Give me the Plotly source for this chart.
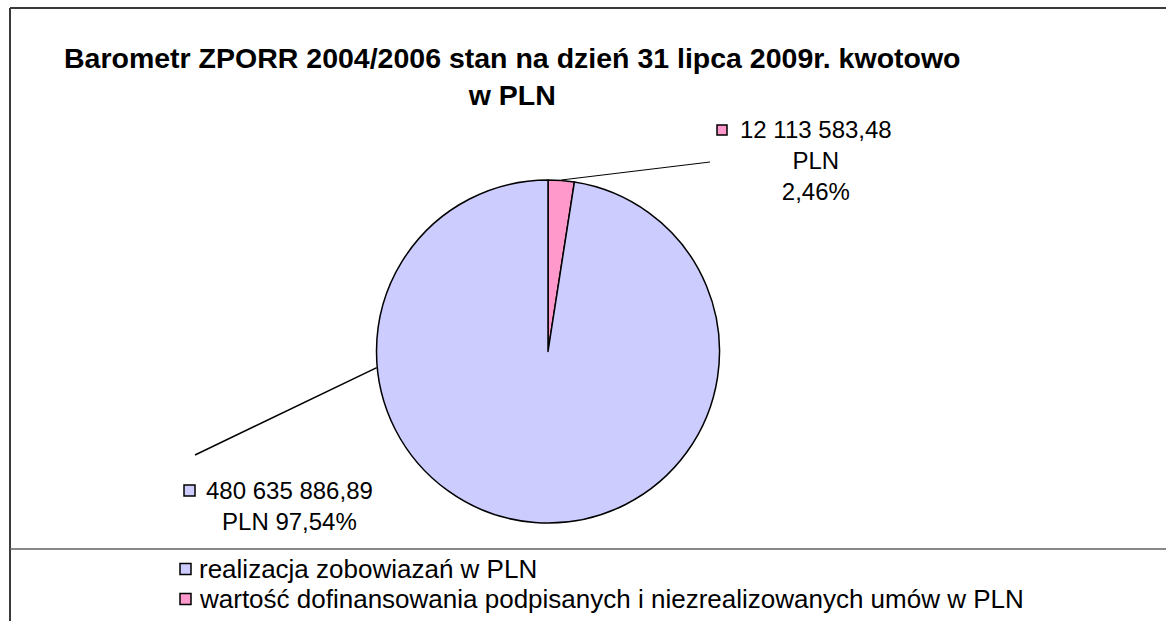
import math
import plotly.graph_objects as go

# ---- data ----
labels = ["realizacja zobowiazań w PLN",
          "wartość dofinansowania podpisanych i niezrealizowanych umów w PLN"]
values = [480635886.89, 12113583.48]
colors = ["#CCCCFF", "#FF99CC"]
title_text = "Barometr ZPORR 2004/2006 stan na dzień 31 lipca 2009r. kwotowo<br>w PLN"

W, H = 1166, 621
FONT = "Liberation Sans, Arial, sans-serif"


def fx(px):
    return px / W


def fy(py):
    return 1 - py / H


def fmt_pln(v):
    s = f"{v:,.2f}"
    return s.replace(",", " ").replace(".", ",")


total = sum(values)
pcts = [v / total * 100 for v in values]
pct_txt = [f"{p:.2f}".replace(".", ",") + "%" for p in pcts]

# pie geometry (pixels)
pie_l, pie_r, pie_t, pie_b = 376, 720, 180, 523
cx, cy = (pie_l + pie_r) / 2, (pie_t + pie_b) / 2
R = (pie_r - pie_l) / 2

# pink slice drawn first so it starts at 12 o'clock going clockwise
order = [1, 0]
fig = go.Figure(go.Pie(
    labels=[labels[i] for i in order], values=[values[i] for i in order],
    sort=False, direction="clockwise", rotation=0,
    marker=dict(colors=[colors[i] for i in order], line=dict(color="black", width=1.5)),
    textinfo="none", hoverinfo="label+value+percent", showlegend=False,
    domain=dict(x=[fx(pie_l), fx(pie_r)], y=[fy(pie_b), fy(pie_t)]),
))

shapes = []
annotations = []

# frame
frame_col = "#3a3a3a"
shapes.append(dict(type="line", xref="paper", yref="paper", x0=fx(10), x1=fx(10), y0=fy(8), y1=fy(621),
                   line=dict(color=frame_col, width=2)))
shapes.append(dict(type="line", xref="paper", yref="paper", x0=fx(10), x1=1, y0=fy(8), y1=fy(8),
                   line=dict(color=frame_col, width=2)))
shapes.append(dict(type="line", xref="paper", yref="paper", x0=fx(10), x1=1, y0=fy(549), y1=fy(549),
                   line=dict(color="#606060", width=1.5)))


def circ_pt(frac_cw_from_top):
    a = 2 * math.pi * frac_cw_from_top
    return cx + R * math.sin(a), cy - R * math.cos(a)


# leader lines
pink_mid = (pcts[1] / 100) / 2
sx, sy = circ_pt(pink_mid)
shapes.append(dict(type="line", xref="paper", yref="paper", x0=fx(sx), y0=fy(sy), x1=fx(710), y1=fy(162),
                   line=dict(color="black", width=1)))
bx, by = circ_pt(0.735)
shapes.append(dict(type="line", xref="paper", yref="paper", x0=fx(bx), y0=fy(by), x1=fx(195), y1=fy(455),
                   line=dict(color="black", width=1.5)))

# data labels
lab_font = dict(family=FONT, size=24, color="black")
annotations.append(dict(xref="paper", yref="paper", x=fx(816), y=fy(114), xanchor="center", yanchor="top",
                        text=f"{fmt_pln(values[1])}<br>PLN<br>{pct_txt[1]}",
                        showarrow=False, font=lab_font, align="center"))
shapes.append(dict(type="rect", xref="paper", yref="paper", x0=fx(717), x1=fx(727), y0=fy(125), y1=fy(135),
                   fillcolor=colors[1], line=dict(color="black", width=1.5)))
annotations.append(dict(xref="paper", yref="paper", x=fx(289), y=fy(475), xanchor="center", yanchor="top",
                        text=f"{fmt_pln(values[0])}<br>PLN {pct_txt[0]}",
                        showarrow=False, font=lab_font, align="center"))
shapes.append(dict(type="rect", xref="paper", yref="paper", x0=fx(184), x1=fx(195), y0=fy(485), y1=fy(496),
                   fillcolor=colors[0], line=dict(color="black", width=1.5)))

# legend (below the plot area)
leg_rows = [569, 599]
for lab, col, yr in zip(labels, colors, leg_rows):
    shapes.append(dict(type="rect", xref="paper", yref="paper", x0=fx(180), x1=fx(191),
                       y0=fy(yr - 5.5), y1=fy(yr + 5.5),
                       fillcolor=col, line=dict(color="black", width=1.5)))
    annotations.append(dict(xref="paper", yref="paper", x=fx(197), y=fy(yr), xanchor="left",
                            yanchor="middle", text=lab, showarrow=False,
                            font=dict(family=FONT, size=26, color="black")))

# title
annotations.append(dict(xref="paper", yref="paper", x=fx(512), y=fy(40), xanchor="center", yanchor="top",
                        text=f"<b>{title_text}</b>", showarrow=False, align="center",
                        font=dict(family=FONT, size=28.5, color="black")))

fig.update_layout(
    width=W, height=H, margin=dict(l=0, r=0, t=0, b=0),
    paper_bgcolor="white", plot_bgcolor="white",
    shapes=shapes, annotations=annotations,
    showlegend=False,
)

fig.write_html("out.html", config={"displayModeBar": False},
               post_script="document.body.style.margin='0px';")
